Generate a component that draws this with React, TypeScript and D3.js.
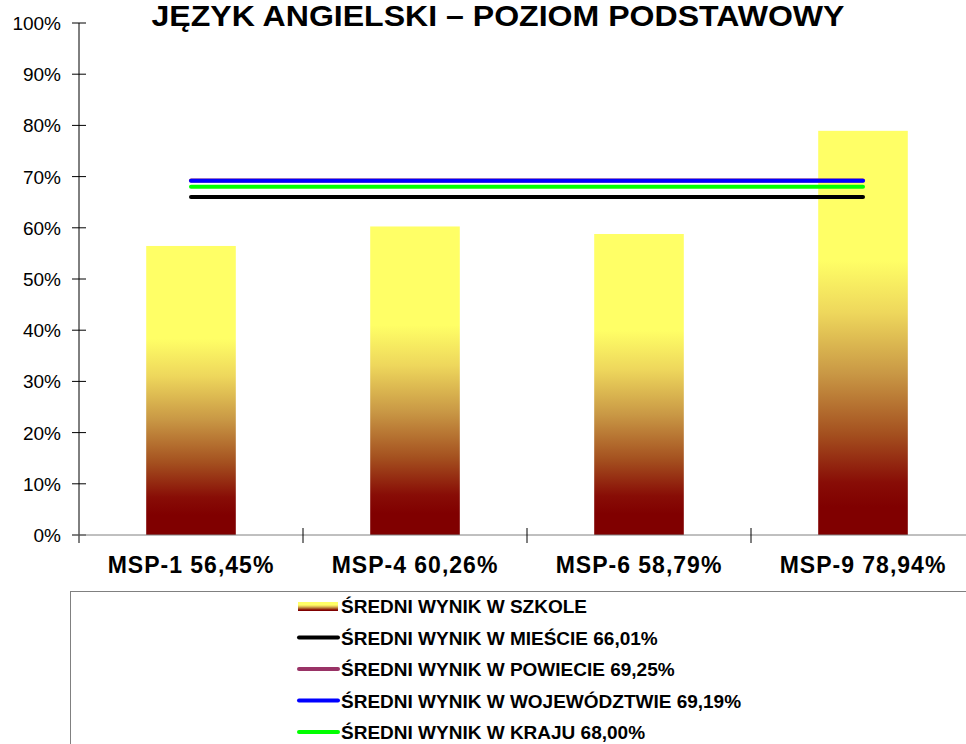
import React, {useRef, useEffect} from 'react'
import * as d3 from 'd3'

const title = 'JĘZYK ANGIELSKI – POZIOM PODSTAWOWY'
const categories = ['MSP-1', 'MSP-4', 'MSP-6', 'MSP-9']
const schoolScores = [56.45, 60.26, 58.79, 78.94]
const yTicks = [0, 10, 20, 30, 40, 50, 60, 70, 80, 90, 100]

// reference averages drawn as flat lines across the categories
const refNames = ['MIEŚCIE', 'POWIECIE', 'WOJEWÓDZTWIE', 'KRAJU']
const refValues = [66.01, 69.25, 69.19, 68.0]
const refColors = ['#000000', '#993366', '#0000ff', '#00ff00']

const fmt = (v: number) => v.toFixed(2).replace('.', ',') + '%'

export default function App() {
  const svgRef = useRef<SVGSVGElement>(null)

  useEffect(() => {
    document.body.style.margin = '0'
    const svg = d3.select(svgRef.current)
    svg.selectAll('*').remove()
    draw(svg)
  }, [])

  function draw(svg: any) {
    const font = 'Arial, "Liberation Sans", sans-serif'

    const x = d3
      .scaleBand()
      .domain(categories)
      .range([79, 975])
      .padding(0)
    const y = d3
      .scaleLinear()
      .domain([0, 100])
      .range([535, 23])

    const barW = x.bandwidth() * 0.4
    const cx = (c: string) => (x(c) as number) + x.bandwidth() / 2

    const defs = svg.append('defs')
    const grad = defs
      .append('linearGradient')
      .attr('id', 'fire')
      .attr('x1', 0)
      .attr('y1', 0)
      .attr('x2', 0)
      .attr('y2', 1)
    const stops: [number, string][] = [
      [0, '#ffff66'],
      [0.32, '#ffff66'],
      [0.45, '#eed75c'],
      [0.6, '#c99845'],
      [0.75, '#a4501f'],
      [0.87, '#880d06'],
      [0.93, '#800000'],
      [1, '#800000']
    ]
    stops.forEach(s => grad.append('stop').attr('offset', s[0]).attr('stop-color', s[1]))

    // title
    svg
      .append('text')
      .attr('x', 498)
      .attr('y', 26)
      .attr('text-anchor', 'middle')
      .attr('font-family', font)
      .attr('font-weight', 'bold')
      .attr('font-size', 30)
      .attr('textLength', 693)
      .attr('lengthAdjust', 'spacingAndGlyphs')
      .text(title)

    // bars
    svg
      .append('g')
      .selectAll('rect')
      .data(categories)
      .enter()
      .append('rect')
      .attr('x', (c: string) => cx(c) - barW / 2)
      .attr('width', barW)
      .attr('y', (c: string, i: number) => y(schoolScores[i]))
      .attr('height', (c: string, i: number) => y(0) - y(schoolScores[i]))
      .attr('fill', 'url(#fire)')

    // y axis
    const yAxis = svg.append('g').attr('font-family', font)
    yAxis
      .append('line')
      .attr('x1', 79)
      .attr('x2', 79)
      .attr('y1', y(100))
      .attr('y2', y(0) + 8)
      .attr('stroke', '#000')
    yTicks.forEach(t => {
      yAxis
        .append('line')
        .attr('x1', 72)
        .attr('x2', 86)
        .attr('y1', y(t))
        .attr('y2', y(t))
        .attr('stroke', '#000')
      yAxis
        .append('text')
        .attr('x', 61)
        .attr('y', y(t) + 7)
        .attr('text-anchor', 'end')
        .attr('font-size', 19)
        .text(t + '%')
    })

    // x axis
    const xAxis = svg.append('g').attr('font-family', font)
    xAxis
      .append('line')
      .attr('x1', 72)
      .attr('x2', 975)
      .attr('y1', y(0))
      .attr('y2', y(0))
      .attr('stroke', '#808080')
    categories.forEach((c, i) => {
      if (i > 0) {
        xAxis
          .append('line')
          .attr('x1', x(c))
          .attr('x2', x(c))
          .attr('y1', y(0) - 7)
          .attr('y2', y(0) + 8)
          .attr('stroke', '#000')
      }
      xAxis
        .append('text')
        .attr('x', cx(c))
        .attr('y', 573)
        .attr('text-anchor', 'middle')
        .attr('font-size', 23)
        .attr('font-weight', 'bold')
        .attr('letter-spacing', 1)
        .text(c + ' ' + fmt(schoolScores[i]))
    })

    // reference lines: draw black, purple, blue, green
    const line = d3
      .line<string>()
      .x(c => cx(c))
    refValues.forEach((v, i) => {
      svg
        .append('path')
        .datum(categories)
        .attr('d', line.y(() => y(v)))
        .attr('stroke', refColors[i])
        .attr('stroke-width', 4)
        .attr('stroke-linecap', 'round')
        .attr('fill', 'none')
    })

    // legend
    const lg = svg.append('g').attr('font-family', font)
    lg
      .append('rect')
      .attr('x', 70.5)
      .attr('y', 591.5)
      .attr('width', 960)
      .attr('height', 200)
      .attr('fill', '#fff')
      .attr('stroke', '#808080')

    const labels = ['ŚREDNI WYNIK W SZKOLE'].concat(
      refNames.map((n, i) => 'ŚREDNI WYNIK W ' + n + ' ' + fmt(refValues[i]))
    )
    labels.forEach((lab, i) => {
      const ry = 606 + i * 31.5
      if (i === 0) {
        lg
          .append('rect')
          .attr('x', 298)
          .attr('y', ry - 4)
          .attr('width', 40)
          .attr('height', 9)
          .attr('fill', 'url(#fire)')
      } else {
        lg
          .append('line')
          .attr('x1', 299)
          .attr('x2', 338)
          .attr('y1', ry)
          .attr('y2', ry)
          .attr('stroke', refColors[i - 1])
          .attr('stroke-width', 4)
          .attr('stroke-linecap', 'round')
      }
      lg
        .append('text')
        .attr('x', 341)
        .attr('y', ry + 7)
        .attr('font-size', 19)
        .attr('font-weight', 'bold')
        .text(lab)
    })
  }

  return <svg ref={svgRef} width={966} height={744} style={{display: 'block'}} />
}
